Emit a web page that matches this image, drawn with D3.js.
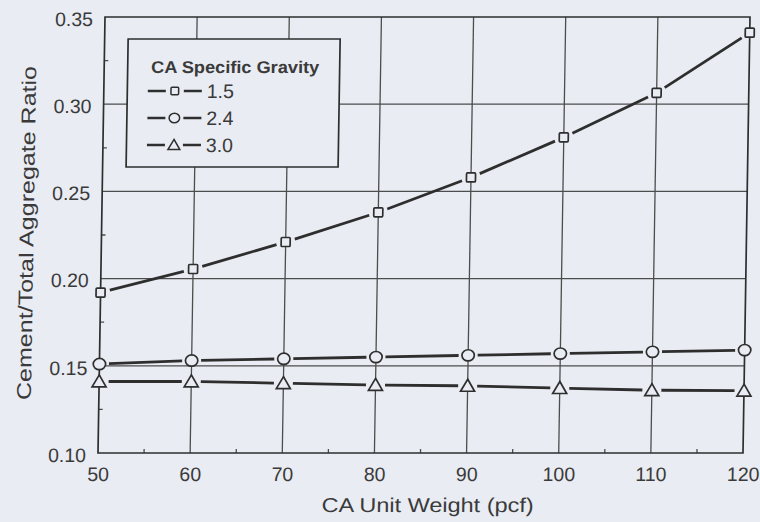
<!DOCTYPE html>
<html>
<head>
<meta charset="utf-8">
<script src="https://cdn.jsdelivr.net/npm/d3@7"></script>
<style>
  html, body { margin: 0; padding: 0; background: #e9ecf2; }
  svg { display: block; }
  text { font-family: "Liberation Sans", Arial, sans-serif; fill: #3a3a3a; }
</style>
</head>
<body>
<svg id="chart" width="760" height="522"></svg>
<script>
// Coarse-aggregate unit weight (pcf) on the x axis
const unitWeights = [50, 60, 70, 80, 90, 100, 110, 120];

// Cement / total aggregate ratio for each CA specific gravity
const ratioSG15 = [0.192, 0.2055, 0.221, 0.238, 0.258, 0.281, 0.3065, 0.341];
const ratioSG24 = [0.151, 0.153, 0.154, 0.155, 0.156, 0.157, 0.158, 0.159];
const ratioSG30 = [0.141, 0.141, 0.140, 0.139, 0.1385, 0.1372, 0.136, 0.1357];

const seriesNames = ["1.5", "2.4", "3.0"];
const seriesShapes = ["square", "circle", "triangle"];

const xTicks = [50, 60, 70, 80, 90, 100, 110, 120];
const xMinorTicks = [55, 65, 75, 85, 95, 105, 115];
const yTicks = [0.10, 0.15, 0.20, 0.25, 0.30, 0.35];
const yMinorTicks = [0.125, 0.175, 0.225, 0.275, 0.325];

const legendTitle = "CA Specific Gravity";
const xTitle = "CA Unit Weight (pcf)";
const yTitle = "Cement/Total Aggregate Ratio";

const series = [ratioSG15, ratioSG24, ratioSG30].map((vals, i) => ({
  name: seriesNames[i],
  shape: seriesShapes[i],
  points: unitWeights.map((w, j) => ({ x: w, y: vals[j] }))
}));

const bg = "#e9ecf2";
const ink = "#2e2e2e";
const gridInk = "#4d4d4d";

const plot = { left: 98, right: 743, top: 17, bottom: 453 };

const x = d3.scaleLinear().domain([50, 120]).range([plot.left, plot.right]);
const y = d3.scaleLinear().domain([0.10, 0.35]).range([plot.bottom, plot.top]);

const svg = d3.select("#chart");
svg.append("rect").attr("width", 760).attr("height", 522).attr("fill", bg);

// the whole figure leans slightly to the right toward the top
const root = svg.append("g")
  .attr("transform", `translate(0,${plot.bottom}) skewX(-0.92) translate(0,${-plot.bottom})`);

// grid
const grid = root.append("g").attr("stroke", gridInk).attr("stroke-width", 1.3);
grid.selectAll("line.v").data(xTicks.slice(1, -1)).join("line")
  .attr("x1", d => x(d)).attr("x2", d => x(d))
  .attr("y1", plot.top).attr("y2", plot.bottom);
grid.selectAll("line.h").data(yTicks.slice(1, -1)).join("line")
  .attr("x1", plot.left).attr("x2", plot.right)
  .attr("y1", d => y(d)).attr("y2", d => y(d));

// axes (ticks drawn inward)
const xAxis = d3.axisBottom(x).tickValues(xTicks).tickSize(0).tickPadding(14)
  .tickFormat(d3.format("d"));
const gx = root.append("g").attr("transform", `translate(0,${plot.bottom})`).call(xAxis);
gx.select(".domain").remove();
gx.selectAll("text").attr("font-size", 19.5).attr("fill", "#3a3a3a")
  .attr("font-family", "Liberation Sans, Arial, sans-serif");

const yAxis = d3.axisLeft(y).tickValues(yTicks).tickSize(0).tickPadding(12)
  .tickFormat(d3.format(".2f"));
const gy = root.append("g").attr("transform", `translate(${plot.left},0)`).call(yAxis);
gy.select(".domain").remove();
gy.selectAll("text").attr("font-size", 19.5).attr("fill", "#3a3a3a").attr("dy", "0.42em")
  .attr("font-family", "Liberation Sans, Arial, sans-serif");

const minor = root.append("g").attr("stroke", gridInk).attr("stroke-width", 1.3);
minor.selectAll("line.mx").data(xMinorTicks).join("line")
  .attr("x1", d => x(d)).attr("x2", d => x(d))
  .attr("y1", plot.bottom).attr("y2", plot.bottom - 4);
minor.selectAll("line.my").data(yMinorTicks).join("line")
  .attr("x1", plot.left).attr("x2", plot.left + 4)
  .attr("y1", d => y(d)).attr("y2", d => y(d));

// frame
root.append("rect")
  .attr("x", plot.left).attr("y", plot.top)
  .attr("width", plot.right - plot.left).attr("height", plot.bottom - plot.top)
  .attr("fill", "none").attr("stroke", ink).attr("stroke-width", 1.7);

// marker drawing
function drawMarker(g, shape, cx, cy, s) {
  if (shape === "square") {
    g.append("rect").attr("x", cx - 4.5 * s).attr("y", cy - 4.5 * s)
      .attr("width", 9 * s).attr("height", 9 * s).attr("rx", 1);
  } else if (shape === "circle") {
    g.append("ellipse").attr("cx", cx).attr("cy", cy).attr("rx", 6.2 * s).attr("ry", 5.6 * s);
  } else {
    const w = 7 * s, h = 12 * s;
    g.append("path").attr("d",
      `M${cx},${cy - h * 0.55} L${cx + w},${cy + h * 0.45} L${cx - w},${cy + h * 0.45} Z`);
  }
}

// series: straight segments that stop short of each marker
const gap = 9.5;
series.forEach(s => {
  const g = root.append("g");
  const segs = d3.pairs(s.points);
  g.selectAll("line").data(segs).join("line")
    .attr("stroke", ink).attr("stroke-width", 2.8).attr("stroke-linecap", "butt")
    .each(function ([a, b]) {
      const x1 = x(a.x), y1 = y(a.y), x2 = x(b.x), y2 = y(b.y);
      const len = Math.hypot(x2 - x1, y2 - y1);
      const ux = (x2 - x1) / len, uy = (y2 - y1) / len;
      d3.select(this)
        .attr("x1", x1 + ux * gap).attr("y1", y1 + uy * gap)
        .attr("x2", x2 - ux * gap).attr("y2", y2 - uy * gap);
    });
  const mg = g.append("g").attr("fill", bg).attr("stroke", ink).attr("stroke-width", 1.7);
  s.points.forEach(p => drawMarker(mg, s.shape, x(p.x), y(p.y), 1));
});

// legend
const lg = root.append("g");
lg.append("rect").attr("x", 121.5).attr("y", 39).attr("width", 212).attr("height", 128)
  .attr("fill", bg).attr("stroke", ink).attr("stroke-width", 1.7);
lg.append("text").attr("x", 145).attr("y", 73).attr("font-size", 17).attr("font-weight", "bold")
  .attr("textLength", 168).attr("lengthAdjust", "spacingAndGlyphs")
  .text(legendTitle);
series.forEach((s, i) => {
  const cy = 91 + i * 27;
  lg.append("line").attr("x1", 142).attr("x2", 160).attr("y1", cy).attr("y2", cy)
    .attr("stroke", ink).attr("stroke-width", 2.6);
  lg.append("line").attr("x1", 178).attr("x2", 196).attr("y1", cy).attr("y2", cy)
    .attr("stroke", ink).attr("stroke-width", 2.6);
  const mg = lg.append("g").attr("fill", bg).attr("stroke", ink).attr("stroke-width", 1.5);
  drawMarker(mg, s.shape, 169, cy, 0.85);
  lg.append("text").attr("x", 201).attr("y", cy + 7).attr("font-size", 19.5).text(s.name);
});

// axis titles
root.append("text").attr("x", (plot.left + plot.right) / 2 + 8).attr("y", 512)
  .attr("text-anchor", "middle").attr("font-size", 20)
  .attr("textLength", 212).attr("lengthAdjust", "spacingAndGlyphs").text(xTitle);
root.append("text")
  .attr("transform", `translate(30,${(plot.top + plot.bottom) / 2 - 2}) rotate(-90)`)
  .attr("text-anchor", "middle").attr("font-size", 20)
  .attr("textLength", 334).attr("lengthAdjust", "spacingAndGlyphs").text(yTitle);
</script>
</body>
</html>
